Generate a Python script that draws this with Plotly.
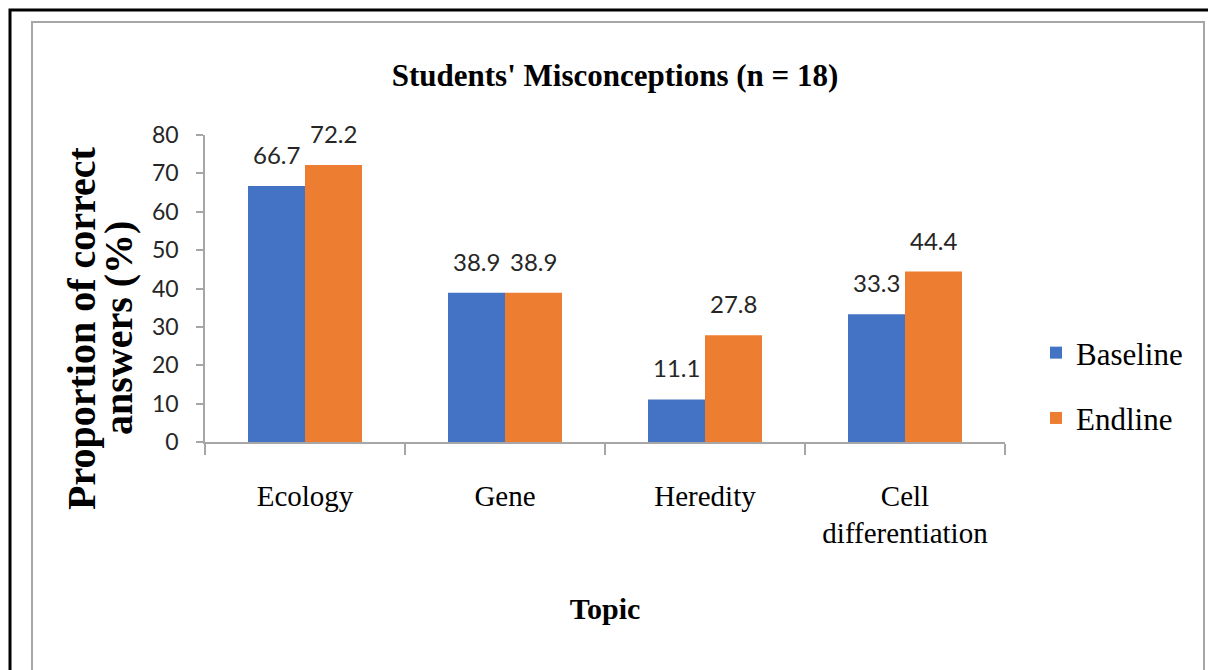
import plotly.graph_objects as go

categories = ["Ecology", "Gene", "Heredity", "Cell differentiation"]
tick_text = ["Ecology", "Gene", "Heredity", "Cell<br>differentiation"]
baseline = [66.7, 38.9, 11.1, 33.3]
endline = [72.2, 38.9, 27.8, 44.4]
y_ticks = [0, 10, 20, 30, 40, 50, 60, 70, 80]

# page body has an 8px margin; the figure is sized to fill the rest
OFF = 8
W, H = 1216 - OFF, 670 - OFF
L, R, T, B = 205, 1005, 135, 442  # plot area in screenshot pixels

def px(x):
    return (x - L) / (R - L)

def py(y):
    return (B - y) / (B - T)

SERIF = "Liberation Serif, Times New Roman, serif"
SANS = "Lato, Open Sans, Liberation Sans, sans-serif"

fig = go.Figure()
fig.add_trace(go.Bar(name="Baseline", x=categories, y=baseline,
                     marker=dict(color="#4472C4", line=dict(width=0)),
                     legendgroup="a"))
fig.add_trace(go.Bar(name="Endline", x=categories, y=endline,
                     marker=dict(color="#ED7D31", line=dict(width=0)),
                     legendgroup="b"))

annotations = []
half = 28.5
for series, sign in ((baseline, -1), (endline, 1)):
    for cat, v in zip(categories, series):
        annotations.append(dict(x=cat, y=v, xref="x", yref="y", text=f"{v:.1f}",
                                showarrow=False, xshift=sign * half, yshift=15,
                                yanchor="bottom",
                                font=dict(family=SANS, size=24, color="#262626")))

# y-axis title, two lines
YT = 40
annotations.append(dict(x=px(81), y=py(328), xref="paper", yref="paper",
                        text="<b>Proportion of correct</b>", textangle=-90,
                        showarrow=False, xanchor="center", yanchor="middle",
                        font=dict(family=SERIF, size=YT, color="black")))
annotations.append(dict(x=px(118), y=py(328), xref="paper", yref="paper",
                        text="<b>answers (%)</b>", textangle=-90,
                        showarrow=False, xanchor="center", yanchor="middle",
                        font=dict(family=SERIF, size=YT, color="black")))

shapes = [
    dict(type="rect", xref="paper", yref="paper",
         x0=px(10), x1=px(1240), y0=py(10), y1=py(700),
         line=dict(color="black", width=3), fillcolor="rgba(0,0,0,0)", layer="below"),
    dict(type="rect", xref="paper", yref="paper",
         x0=px(32), x1=px(1204), y0=py(22), y1=py(700),
         line=dict(color="#A6A6A6", width=2), fillcolor="rgba(0,0,0,0)", layer="below"),
]

fig.update_layout(
    width=W, height=H,
    margin=dict(l=L - OFF, r=W - (R - OFF), t=T - OFF, b=H - (B - OFF), pad=0),
    paper_bgcolor="white", plot_bgcolor="white",
    barmode="group", bargap=0.43, bargroupgap=0,
    title=dict(text="<b>Students' Misconceptions (n = 18)</b>",
               x=(615 - OFF) / W, xanchor="center", xref="container",
               y=1 - (75 - OFF) / H, yanchor="middle", yref="container",
               font=dict(family=SERIF, size=31, color="black")),
    legend=dict(x=px(1036), y=py(326), xanchor="left", yanchor="top",
                font=dict(family=SERIF, size=31, color="black"),
                traceorder="grouped", tracegroupgap=22,
                bgcolor="rgba(0,0,0,0)"),
    xaxis=dict(tickmode="array", tickvals=categories, ticktext=tick_text,
               showline=True, linecolor="#A6A6A6", linewidth=1.5,
               ticks="outside", tickson="boundaries", ticklen=11,
               tickcolor="#A6A6A6", tickwidth=1.5,
               ticklabelstandoff=27,
               tickfont=dict(family=SERIF, size=29, color="black"),
               title=dict(text="<b>Topic</b>", standoff=50,
                          font=dict(family=SERIF, size=30, color="black")),
               showgrid=False, zeroline=False),
    yaxis=dict(range=[0, 80], tickmode="array", tickvals=y_ticks,
               showline=True, linecolor="#A6A6A6", linewidth=1.5,
               ticks="outside", ticklen=7, tickcolor="#A6A6A6", tickwidth=1.5,
               ticklabelstandoff=13,
               tickfont=dict(family=SANS, size=23, color="#262626"),
               showgrid=False, zeroline=False),
    annotations=annotations,
    shapes=shapes,
    showlegend=True,
)

fig.write_html("out.html")
